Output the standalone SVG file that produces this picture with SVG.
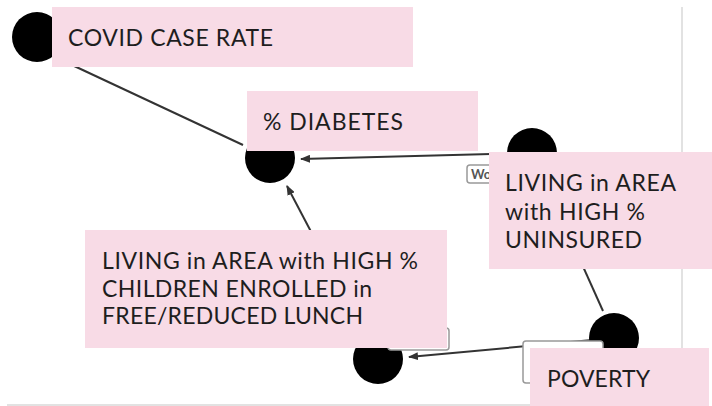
<svg xmlns="http://www.w3.org/2000/svg" width="712" height="406" viewBox="0 0 712 406">
<style>
.edge{stroke:#333;stroke-width:2;fill:none}
.node{fill:#000}
.lbl{fill:#fff;stroke:#999;stroke-width:1.5}
.box{fill:#F8DBE6}
.t{font-family:Lato,"Open Sans",sans-serif;font-size:23px;fill:#1e1e1e}
.frame{stroke:#e2e2e2;stroke-width:2}
</style>
<defs>
<marker id="arr" markerWidth="10" markerHeight="8" refX="9" refY="4" orient="auto" markerUnits="userSpaceOnUse">
<path d="M0,0 L10,4 L0,8 Z" fill="#333"/>
</marker>
</defs>
<rect width="712" height="406" fill="#fff"/>
<line class="frame" x1="682" y1="7" x2="682" y2="406"/>
<line class="frame" x1="7" y1="405" x2="682" y2="405" stroke-width="1"/>
<g id="connectors">
<line class="edge" x1="40" y1="50" x2="243" y2="145"/>
<line class="edge" x1="532" y1="153" x2="301" y2="159" marker-end="url(#arr)"/>
<line class="edge" x1="378" y1="359" x2="287" y2="186" marker-end="url(#arr)"/>
<line class="edge" x1="532" y1="153" x2="603" y2="311"/>
<line class="edge" x1="614" y1="338" x2="409" y2="357" marker-end="url(#arr)"/>
</g>
<g id="n-covid"><circle class="node" cx="37" cy="37" r="25"/></g>
<g id="n-diabetes"><circle class="node" cx="270" cy="158" r="25"/></g>
<g id="n-uninsured"><circle class="node" cx="532" cy="153" r="25"/></g>
<g id="n-poverty"><circle class="node" cx="614" cy="338" r="25"/></g>
<g id="n-lunch"><circle class="node" cx="378" cy="359" r="25"/></g>
<g id="edge-labels">
<rect class="lbl" x="467" y="165" width="40" height="18" rx="3"/>
<text x="471" y="179" font-family="Lato,sans-serif" font-size="13" font-weight="bold" fill="#555">Wo</text>
<rect class="lbl" x="388" y="328" width="61" height="22" rx="3"/>
<rect class="lbl" x="523" y="341" width="80" height="42" rx="3"/>
</g>
<g id="b-covid">
<rect class="box" x="52" y="7" width="361" height="60"/>
<text class="t" x="68" y="46" textLength="205">COVID CASE RATE</text>
</g>
<g id="b-diabetes">
<rect class="box" x="247" y="91" width="231" height="60"/>
<text class="t" x="263" y="130" textLength="140">% DIABETES</text>
</g>
<g id="b-uninsured">
<rect class="box" x="489" y="152" width="223" height="117"/>
<text class="t" x="505" y="191" textLength="171">LIVING in AREA</text>
<text class="t" x="505" y="220" textLength="140">with HIGH %</text>
<text class="t" x="505" y="248" textLength="137">UNINSURED</text>
</g>
<g id="b-lunch">
<rect class="box" x="85" y="230" width="362" height="118"/>
<text class="t" x="102" y="269" textLength="316">LIVING in AREA with HIGH %</text>
<text class="t" x="102" y="297" textLength="270">CHILDREN ENROLLED in</text>
<text class="t" x="102" y="324" textLength="261">FREE/REDUCED LUNCH</text>
</g>
<g id="b-poverty">
<rect class="box" x="530" y="348" width="179" height="58"/>
<text class="t" x="547" y="387" textLength="103">POVERTY</text>
</g>
</svg>
